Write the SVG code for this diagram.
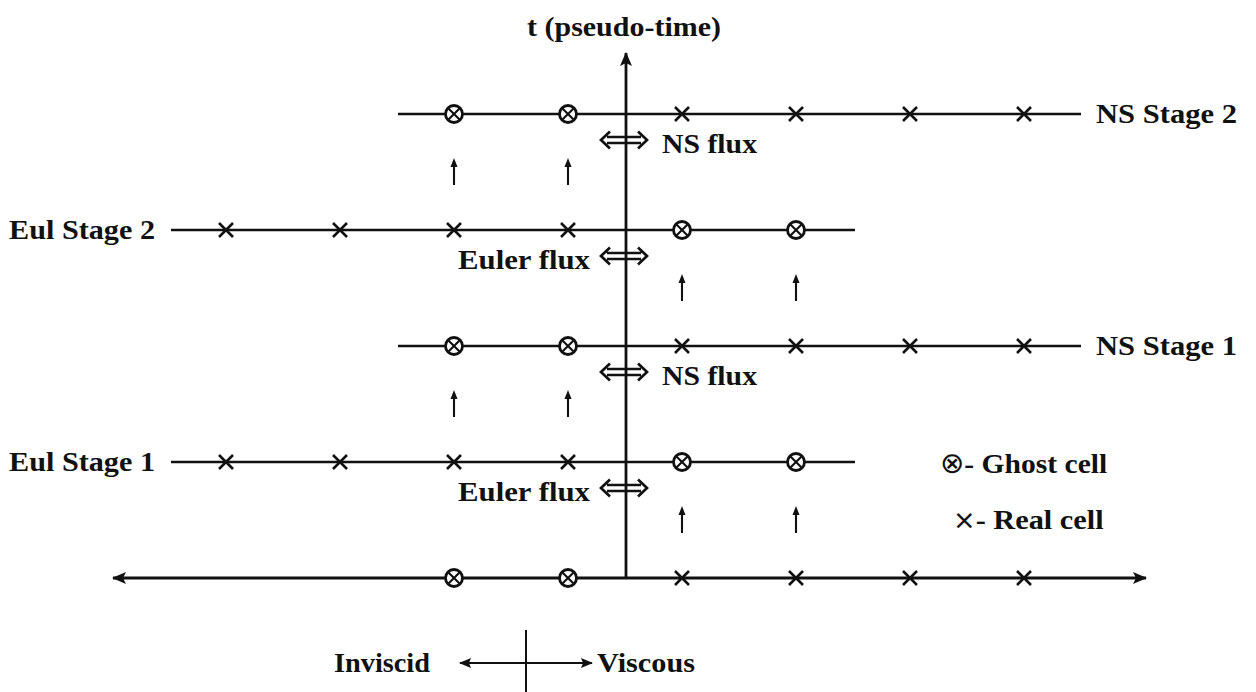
<svg xmlns="http://www.w3.org/2000/svg" width="1256" height="692" viewBox="0 0 1256 692">
<style>
  .ln{stroke:#111;stroke-width:2.6;fill:none}
  .ax{stroke:#111;stroke-width:2.8;fill:none}
  .thin{stroke:#111;stroke-width:2;fill:none}
  .t{font-family:"Liberation Serif","Times New Roman",serif;font-size:28px;font-weight:bold;fill:#111}
  .sym{font-family:"DejaVu Sans",sans-serif;font-weight:normal}
</style>
<defs>
  <g id="cr"><path d="M-7,-7 L7,7 M-7,7 L7,-7" stroke="#111" stroke-width="2.6" fill="none"/></g>
  <g id="gh"><circle r="8.5" fill="#fff" stroke="#111" stroke-width="2.8"/><path d="M-5.8,-5.8 L5.8,5.8 M-5.8,5.8 L5.8,-5.8" stroke="#111" stroke-width="2.1" fill="none"/></g>
  <g id="dbl"><path d="M607,-3 L641,-3 M607,3 L641,3 M610,-8.5 L601,0 L610,8.5 M638,-8.5 L647,0 L638,8.5" stroke="#111" stroke-width="2.7" fill="none" stroke-linejoin="miter"/></g>
  <g id="up"><path d="M0,0 L0,-20" stroke="#111" stroke-width="2.1" fill="none"/><path d="M-3.5,-18 L0,-27 L3.5,-18 Z" fill="#111"/></g>
  <marker id="ah" viewBox="0 0 14 12" refX="13" refY="6" markerWidth="14" markerHeight="12" markerUnits="userSpaceOnUse" orient="auto-start-reverse"><path d="M0,0 L14,6 L0,12 L3,6 Z" fill="#111"/></marker>
  <marker id="ah2" viewBox="0 0 12 10" refX="11" refY="5" markerWidth="12" markerHeight="10" markerUnits="userSpaceOnUse" orient="auto-start-reverse"><path d="M0,0 L12,5 L0,10 L2,5 Z" fill="#111"/></marker>
</defs>
<rect width="1256" height="692" fill="#fff"/>

<g id="connectors">
  <line class="ax" x1="626" y1="578" x2="626" y2="53" marker-end="url(#ah)"/>
  <line class="ax" x1="113" y1="578" x2="1146" y2="578" marker-start="url(#ah)" marker-end="url(#ah)"/>
  <line class="ln" x1="398" y1="114" x2="1081" y2="114"/>
  <line class="ln" x1="171" y1="230" x2="855" y2="230"/>
  <line class="ln" x1="398" y1="346" x2="1081" y2="346"/>
  <line class="ln" x1="171" y1="462" x2="855" y2="462"/>
  <use href="#dbl" y="140"/>
  <use href="#dbl" y="256"/>
  <use href="#dbl" y="372"/>
  <use href="#dbl" y="488"/>
  <use href="#up" x="454" y="185"/>
  <use href="#up" x="568" y="185"/>
  <use href="#up" x="682" y="301"/>
  <use href="#up" x="796" y="301"/>
  <use href="#up" x="454" y="417"/>
  <use href="#up" x="568" y="417"/>
  <use href="#up" x="682" y="533"/>
  <use href="#up" x="796" y="533"/>
  <line class="thin" x1="526" y1="630" x2="526" y2="692"/>
  <line class="thin" x1="460" y1="663" x2="592" y2="663" marker-start="url(#ah2)" marker-end="url(#ah2)"/>
</g>

<g id="axis-label"><text class="t" x="527" y="36" textLength="194" lengthAdjust="spacingAndGlyphs">t (pseudo-time)</text></g>

<g id="ns-stage-2">
  <use href="#gh" x="454" y="114"/><use href="#gh" x="568" y="114"/>
  <use href="#cr" x="682" y="114"/><use href="#cr" x="796" y="114"/><use href="#cr" x="910" y="114"/><use href="#cr" x="1024" y="114"/>
  <text class="t" x="1096" y="123" textLength="141" lengthAdjust="spacingAndGlyphs">NS Stage 2</text>
</g>
<g id="ns-flux-2"><text class="t" x="662" y="153" textLength="95" lengthAdjust="spacingAndGlyphs">NS flux</text></g>

<g id="eul-stage-2">
  <use href="#cr" x="226" y="230"/><use href="#cr" x="340" y="230"/><use href="#cr" x="454" y="230"/><use href="#cr" x="568" y="230"/>
  <use href="#gh" x="682" y="230"/><use href="#gh" x="796" y="230"/>
  <text class="t" x="9" y="239" textLength="146" lengthAdjust="spacingAndGlyphs">Eul Stage 2</text>
</g>
<g id="euler-flux-2"><text class="t" x="458" y="269" textLength="132" lengthAdjust="spacingAndGlyphs">Euler flux</text></g>

<g id="ns-stage-1">
  <use href="#gh" x="454" y="346"/><use href="#gh" x="568" y="346"/>
  <use href="#cr" x="682" y="346"/><use href="#cr" x="796" y="346"/><use href="#cr" x="910" y="346"/><use href="#cr" x="1024" y="346"/>
  <text class="t" x="1096" y="355" textLength="141" lengthAdjust="spacingAndGlyphs">NS Stage 1</text>
</g>
<g id="ns-flux-1"><text class="t" x="662" y="385" textLength="95" lengthAdjust="spacingAndGlyphs">NS flux</text></g>

<g id="eul-stage-1">
  <use href="#cr" x="226" y="462"/><use href="#cr" x="340" y="462"/><use href="#cr" x="454" y="462"/><use href="#cr" x="568" y="462"/>
  <use href="#gh" x="682" y="462"/><use href="#gh" x="796" y="462"/>
  <text class="t" x="9" y="471" textLength="146" lengthAdjust="spacingAndGlyphs">Eul Stage 1</text>
</g>
<g id="euler-flux-1"><text class="t" x="458" y="501" textLength="132" lengthAdjust="spacingAndGlyphs">Euler flux</text></g>

<g id="initial">
  <use href="#gh" x="454" y="578"/><use href="#gh" x="568" y="578"/>
  <use href="#cr" x="682" y="578"/><use href="#cr" x="796" y="578"/><use href="#cr" x="910" y="578"/><use href="#cr" x="1024" y="578"/>
</g>

<g id="legend">
  <text class="t" x="940" y="473"><tspan class="sym" font-size="29">⊗</tspan><tspan textLength="143" lengthAdjust="spacingAndGlyphs">- Ghost cell</tspan></text>
  <text class="t" x="953" y="529"><tspan class="sym" font-size="27">×</tspan><tspan textLength="128" lengthAdjust="spacingAndGlyphs">- Real cell</tspan></text>
</g>

<g id="inviscid"><text class="t" x="334" y="672" textLength="96" lengthAdjust="spacingAndGlyphs">Inviscid</text></g>
<g id="viscous"><text class="t" x="597" y="672" textLength="98" lengthAdjust="spacingAndGlyphs">Viscous</text></g>
</svg>
